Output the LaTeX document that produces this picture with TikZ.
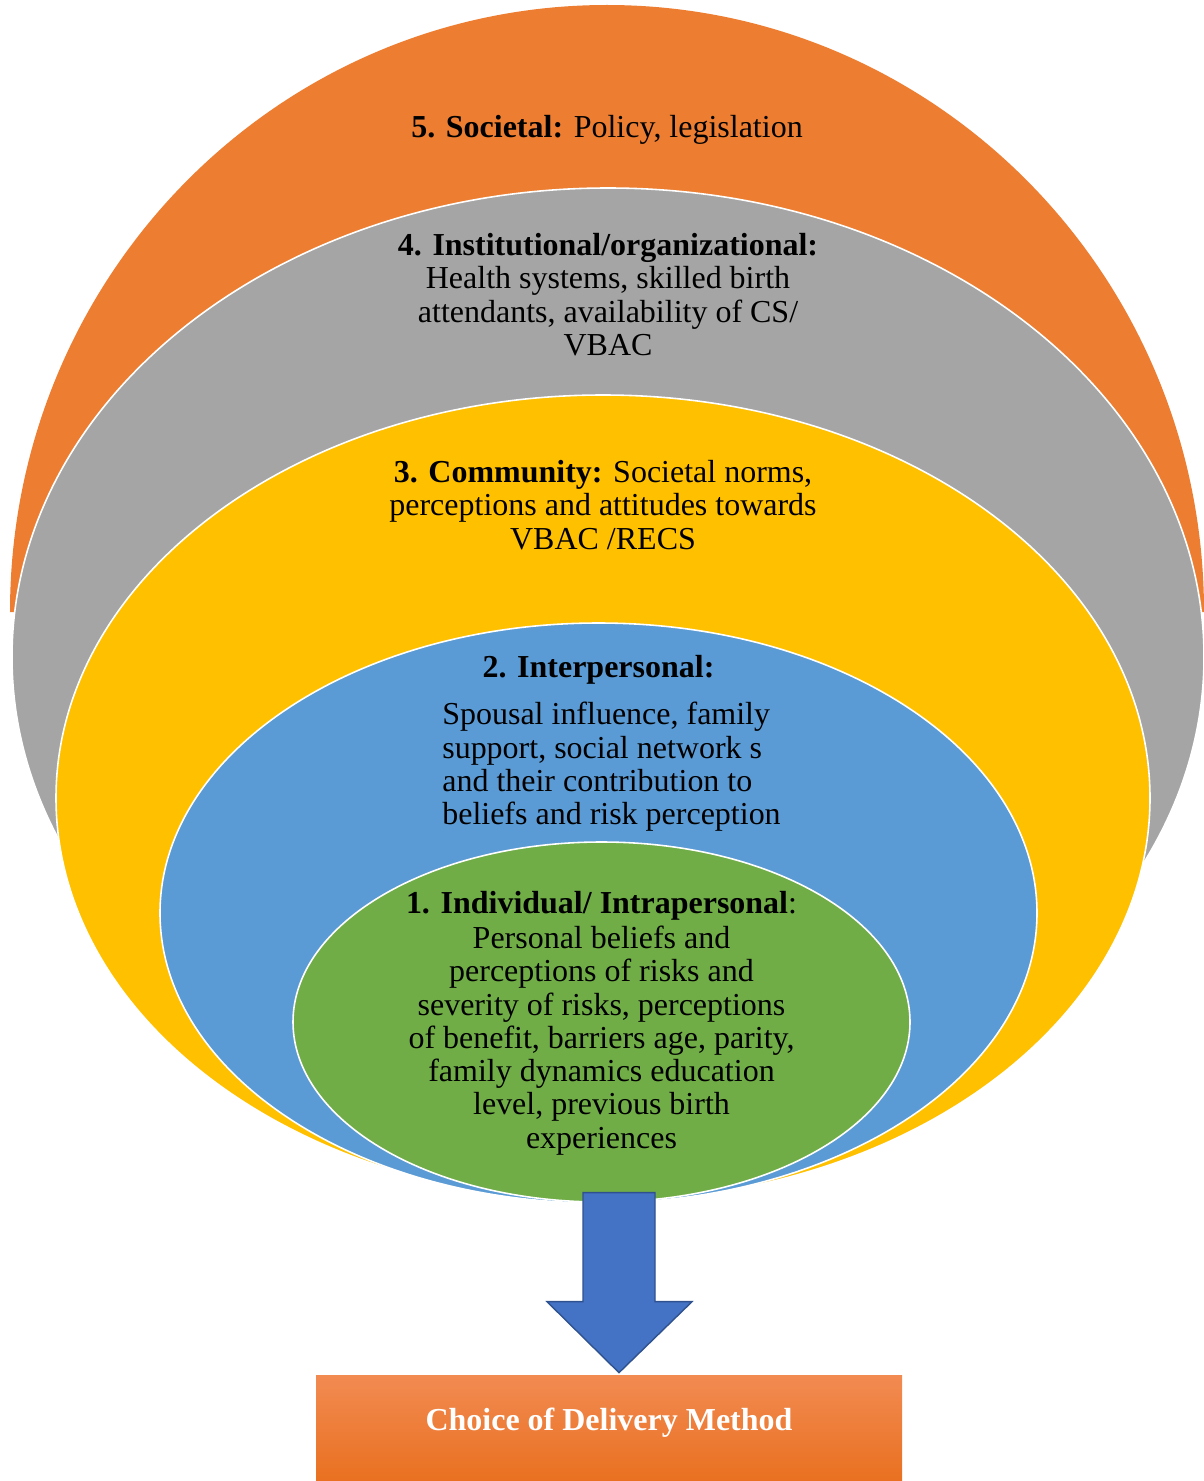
\documentclass[tikz,border=0pt]{standalone}
\usepackage{fontspec}
\setmainfont{Liberation Serif}
\usetikzlibrary{shapes.geometric,positioning}

\definecolor{layerorange}{HTML}{ED7D31}
\definecolor{layergray}{HTML}{A5A5A5}
\definecolor{layeryellow}{HTML}{FFC000}
\definecolor{layerblue}{HTML}{5B9BD5}
\definecolor{layergreen}{HTML}{70AD47}
\definecolor{arrowblue}{HTML}{4472C4}
\definecolor{arrowedge}{HTML}{2F528F}
\definecolor{boxtop}{HTML}{F28B52}
\definecolor{boxbottom}{HTML}{E97020}

\tikzset{
    layer/.style={ellipse, draw=white, line width=0.9pt, inner sep=0pt},
    layertext/.style={align=center, inner sep=0pt, font=\fontsize{18.2}{18.9}\selectfont},
    bigarrow/.style={fill=arrowblue, draw=arrowedge, line width=0.8pt, line join=miter},
    choicebox/.style={rectangle, top color=boxtop, bottom color=boxbottom, inner sep=0pt,
        minimum width=11.72cm, text height=1.1cm, text depth=1.02cm, text=white,
        font=\bfseries\fontsize{18.2}{18.9}\selectfont}
}

\begin{document}
\begin{tikzpicture}
    \useasboundingbox (0,0) rectangle (24.08,-29.62);
    % Societal layer, only the upper half is shown
    \fill[layerorange] (0.2,-12.24) arc[start angle=180, end angle=0, x radius=11.94, y radius=12.14] -- cycle;
    % Nested layers, outside in
    \foreach \name/\col/\x/\y/\w/\h in {inst/layergray/12.16/-13.14/23.84/18.76,
                                         comm/layeryellow/12.06/-15.96/21.88/16.12,
                                         inter/layerblue/11.97/-18.26/17.54/11.6,
                                         indiv/layergreen/12.03/-20.44/12.34/7.2}
        \node[layer, fill=\col, minimum width=\w cm, minimum height=\h cm] (\name) at (\x,\y) {};

    % Layer labels
    \node[layertext, anchor=base] (societaltxt) at (12.14,-2.76) {\textbf{5. Societal:} Policy, legislation};
    \node[layertext, below=0.92cm of inst.north] (insttxt) {\textbf{4. Institutional/organizational:}\\
        Health systems, skilled birth\\ attendants, availability of CS/\\ VBAC};
    \node[layertext, below=1.32cm of comm.north] (commtxt) {\textbf{3. Community:} Societal norms,\\
        perceptions and attitudes towards\\ VBAC /RECS};
    \node[layertext, below=0.66cm of inter.north] (intertxt) {\textbf{2. Interpersonal:}};
    \node[layertext, align=left, below=0.34cm of intertxt, xshift=0.26cm] (interbody) {Spousal influence, family\\
        support, social network s\\ and their contribution to\\ beliefs and risk perception};
    \node[layertext, below=1.0cm of indiv.north] (indivtxt) {\textbf{1. Individual/ Intrapersonal}:\\[1pt]
        Personal beliefs and\\ perceptions of risks and\\ severity of risks, perceptions\\
        of benefit, barriers age, parity,\\ family dynamics education\\ level, previous birth\\ experiences};

    % Outcome
    \node[choicebox] (choice) at (12.18,-28.56) {Choice of Delivery Method};
    \draw[bigarrow] ([xshift=0.2cm, yshift=0.04cm]choice.north) -- ++(-1.44,1.42) -- ++(0.72,0)
        -- ++(0,2.18) -- ++(1.44,0) -- ++(0,-2.18) -- ++(0.74,0) -- cycle;
\end{tikzpicture}
\end{document}
